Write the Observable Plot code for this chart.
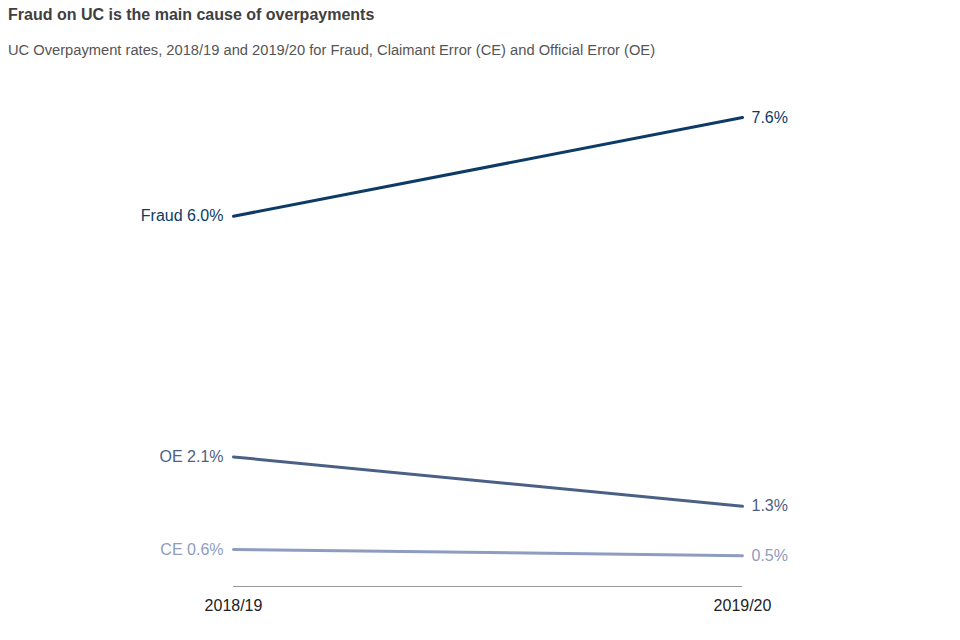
<!DOCTYPE html>
<html>
<head>
<meta charset="utf-8">
<script src="https://cdn.jsdelivr.net/npm/d3@7"></script>
<script src="https://cdn.jsdelivr.net/npm/@observablehq/plot@0.6"></script>
<style>
  body { margin: 0; background: #fff; font-family: "Liberation Sans", Arial, sans-serif; }
  #wrap { position: relative; width: 960px; height: 640px; }
  #title { position: absolute; left: 8px; top: 6px; font-size: 16px; font-weight: bold; color: #404040; }
  #subtitle { position: absolute; left: 8px; top: 42px; font-size: 14.7px; color: #555; }
  #chart { position: absolute; left: 0; top: 80px; }
</style>
</head>
<body>
<div id="wrap">
  <div id="title">Fraud on UC is the main cause of overpayments</div>
  <div id="subtitle">UC Overpayment rates, 2018/19 and 2019/20 for Fraud, Claimant Error (CE) and Official Error (OE)</div>
  <div id="chart"></div>
</div>
<script>
const years = ["2018/19", "2019/20"];
const seriesNames = ["Fraud", "OE", "CE"];
const fraudValues = [6.0, 7.6];
const oeValues = [2.1, 1.3];
const ceValues = [0.6, 0.5];
const seriesColors = ["#0d3b66", "#4b6085", "#8e9cc0"];

const allValues = [fraudValues, oeValues, ceValues];
const data = [];
seriesNames.forEach((s, i) => {
  years.forEach((y, j) => data.push({series: s, year: y, value: allValues[i][j]}));
});
const first = data.filter(d => d.year === years[0]);
const last = data.filter(d => d.year === years[1]);

const plot = Plot.plot({
  width: 960,
  height: 560,
  marginLeft: 233,
  marginRight: 218,
  marginTop: 37,
  marginBottom: 54,
  style: {fontFamily: "'Liberation Sans', Arial, sans-serif", fontSize: "16px", color: "#222", background: "#fff"},
  x: {type: "point", domain: years, padding: 0, label: null},
  y: {domain: [0, 7.6], axis: null},
  color: {domain: seriesNames, range: seriesColors},
  marks: [
    Plot.ruleY([0], {stroke: "#999", strokeWidth: 1}),
    Plot.axisX({tickSize: 0, tickPadding: 13, fontSize: 16, fill: "#222", label: null}),
    Plot.line(data, {x: "year", y: "value", z: "series", stroke: "series", strokeWidth: 3}),
    Plot.text(first, {x: "year", y: "value", fill: "series", text: d => `${d.series} ${d.value.toFixed(1)}%`, textAnchor: "end", dx: -10, fontSize: 16}),
    Plot.text(last, {x: "year", y: "value", fill: "series", text: d => `${d.value.toFixed(1)}%`, textAnchor: "start", dx: 9, fontSize: 16})
  ]
});
document.getElementById("chart").appendChild(plot);
</script>
</body>
</html>
